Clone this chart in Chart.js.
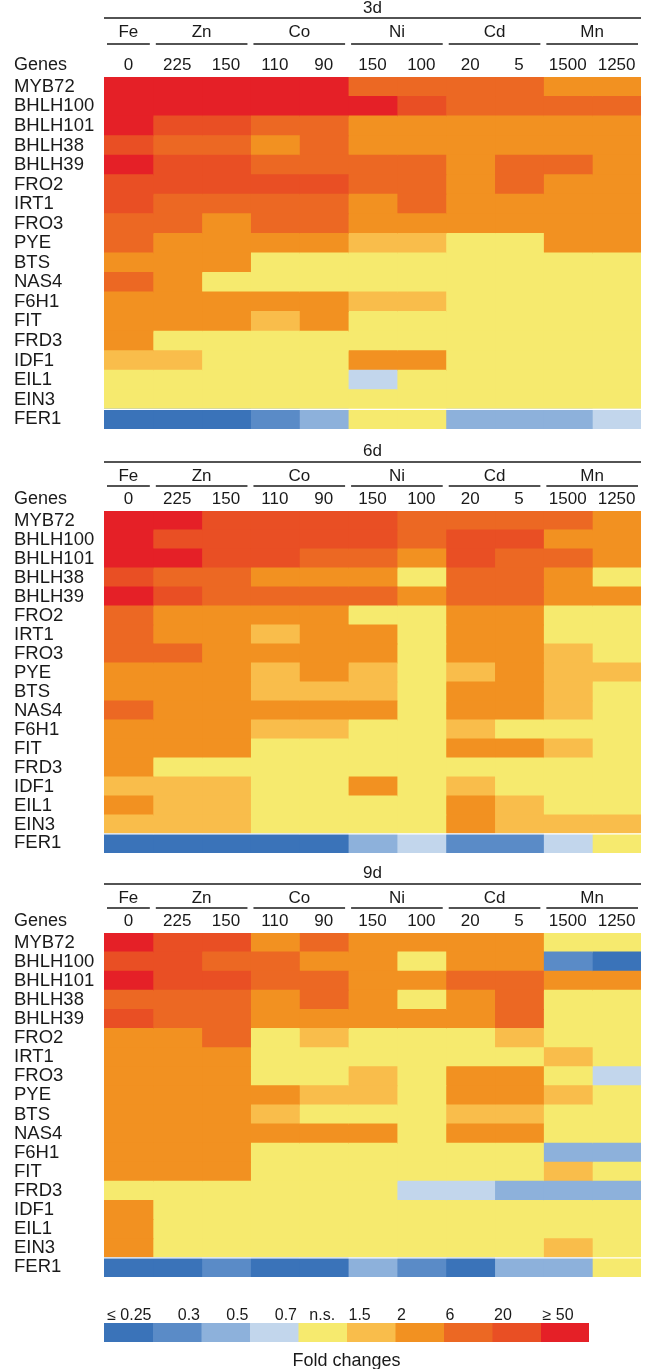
<!DOCTYPE html>
<html lang="en">
<head>
<meta charset="UTF-8">
<title>Fold changes</title>
<script src="https://cdn.jsdelivr.net/npm/chart.js@4.4.1/dist/chart.umd.min.js"></script>
<style>
  html, body { margin: 0; padding: 0; background: #fff; }
  body { width: 650px; height: 1369px; position: relative; overflow: hidden; }
  canvas { position: absolute; left: 0; display: block; }
</style>
</head>
<body>
<canvas id="p3d" width="650" height="440" style="top:0px"></canvas>
<canvas id="p6d" width="650" height="424" style="top:440px"></canvas>
<canvas id="p9d" width="650" height="426" style="top:862px"></canvas>
<canvas id="scale" width="650" height="79" style="top:1290px"></canvas>

<script>
// genes (rows) and treatments (columns)
const genes = ['MYB72', 'BHLH100', 'BHLH101', 'BHLH38', 'BHLH39', 'FRO2', 'IRT1', 'FRO3', 'PYE',
               'BTS', 'NAS4', 'F6H1', 'FIT', 'FRD3', 'IDF1', 'EIL1', 'EIN3', 'FER1'];
const metals = ['Fe', 'Zn', 'Co', 'Ni', 'Cd', 'Mn'];
const metalSpan = [1, 2, 2, 2, 2, 2];
const doses = ['0', '225', '150', '110', '90', '150', '100', '20', '5', '1500', '1250'];

// fold change classes (index used in the tables below)
const foldLabels = ['\u2264 0.25', '0.3', '0.5', '0.7', 'n.s.', '1.5', '2', '6', '20', '\u2265 50'];
const foldColors = ['#3a73b9', '#5a8bc7', '#8db1db', '#c2d6ec', '#f6ea6e',
                    '#f9bd4b', '#f29121', '#ec6823', '#e94f24', '#e52027'];

// class index per gene, columns in the order of doses
const day3 = [
  [9,9,9,9,9,7,7,7,7,6,6],
  [9,9,9,9,9,9,8,7,7,7,7],
  [9,8,8,7,7,6,6,6,6,6,6],
  [8,7,7,6,7,6,6,6,6,6,6],
  [9,8,8,7,7,7,7,6,7,7,6],
  [8,8,8,8,8,7,7,6,7,6,6],
  [8,7,7,7,7,6,7,6,6,6,6],
  [7,7,6,7,7,6,6,6,6,6,6],
  [7,6,6,6,6,5,5,4,4,6,6],
  [6,6,6,4,4,4,4,4,4,4,4],
  [7,6,4,4,4,4,4,4,4,4,4],
  [6,6,6,6,6,5,5,4,4,4,4],
  [6,6,6,5,6,4,4,4,4,4,4],
  [6,4,4,4,4,4,4,4,4,4,4],
  [5,5,4,4,4,6,6,4,4,4,4],
  [4,4,4,4,4,3,4,4,4,4,4],
  [4,4,4,4,4,4,4,4,4,4,4],
  [0,0,0,1,2,4,4,2,2,2,3]
];
const day6 = [
  [9,9,8,8,8,8,7,7,7,7,6],
  [9,8,8,8,8,8,7,8,8,6,6],
  [9,9,8,8,7,7,6,8,7,7,6],
  [8,7,7,6,6,6,4,7,7,6,4],
  [9,8,7,7,7,7,6,7,7,6,6],
  [7,6,6,6,6,4,4,6,6,4,4],
  [7,6,6,5,6,6,4,6,6,4,4],
  [7,7,6,6,6,6,4,6,6,5,4],
  [6,6,6,5,6,5,4,5,6,5,5],
  [6,6,6,5,5,5,4,6,6,5,4],
  [7,6,6,6,6,6,4,6,6,5,4],
  [6,6,6,5,5,4,4,5,4,4,4],
  [6,6,6,4,4,4,4,6,6,5,4],
  [6,4,4,4,4,4,4,4,4,4,4],
  [5,5,5,4,4,6,4,5,4,4,4],
  [6,5,5,4,4,4,4,6,5,4,4],
  [5,5,5,4,4,4,4,6,5,5,5],
  [0,0,0,0,0,2,3,1,1,3,4]
];
const day9 = [
  [9,8,8,6,7,6,6,6,6,4,4],
  [8,8,7,7,6,6,4,6,6,1,0],
  [9,8,8,7,7,6,6,7,7,6,6],
  [7,7,7,6,7,6,4,6,7,4,4],
  [8,7,7,6,6,6,6,6,7,4,4],
  [6,6,7,4,5,4,4,4,5,4,4],
  [6,6,6,4,4,4,4,4,4,5,4],
  [6,6,6,4,4,5,4,6,6,4,3],
  [6,6,6,6,5,5,4,6,6,5,4],
  [6,6,6,5,4,4,4,5,5,4,4],
  [6,6,6,6,6,6,4,6,6,4,4],
  [6,6,6,4,4,4,4,4,4,2,2],
  [6,6,6,4,4,4,4,4,4,5,4],
  [4,4,4,4,4,4,3,3,2,2,2],
  [6,4,4,4,4,4,4,4,4,4,4],
  [6,4,4,4,4,4,4,4,4,4,4],
  [6,4,4,4,4,4,4,4,4,5,4],
  [0,0,1,0,0,2,1,0,2,2,4]
];

const FONT = '"Liberation Sans", Arial, Helvetica, sans-serif';
const INK = '#1a1a1a';
Chart.defaults.font.family = FONT;
Chart.defaults.color = INK;
Chart.defaults.animation = false;

// column headers: day, metal groups, doses (+ thin gap above FER1)
const header = {
  id: 'header',
  afterDraw(chart, args, opts) {
    const { ctx, chartArea: a } = chart;
    const x = chart.scales.x, y = chart.scales.y;
    const T = a.top, off = opts.offsets;
    const line = (x1, x2, yy) => {
      ctx.beginPath(); ctx.moveTo(x1, yy); ctx.lineTo(x2, yy); ctx.stroke();
    };
    ctx.save();
    // white separator before the last row
    const rowH = a.height / genes.length;
    ctx.strokeStyle = '#ffffff';
    ctx.lineWidth = 1.2;
    line(a.left, a.right, y.getPixelForValue(genes.length - 1) - rowH / 2);

    ctx.fillStyle = INK;
    ctx.strokeStyle = INK;
    ctx.lineWidth = 1.5;
    ctx.textAlign = 'center';
    ctx.textBaseline = 'middle';
    ctx.font = '17px ' + FONT;
    ctx.fillText(opts.title, (a.left + a.right) / 2, T + off[0]);
    line(a.left, a.right, T + off[1]);

    let c = 0;
    metals.forEach((m, i) => {
      const l = x.getPixelForValue(c);
      const r = x.getPixelForValue(c + metalSpan[i]);
      ctx.fillText(m, (l + r) / 2, T + off[2]);
      line(l + 3, r - 3, T + off[3]);
      c += metalSpan[i];
    });
    doses.forEach((d, i) => ctx.fillText(d, x.getPixelForValue(i + 0.5), T + off[4]));

    ctx.textAlign = 'left';
    ctx.font = '18px ' + FONT;
    ctx.fillText('Genes', 14, T + off[4]);
    ctx.restore();
  }
};

function heatmap(id, title, table, padTop, offsets) {
  const datasets = doses.map((d, c) => ({
    label: d,
    data: genes.map(() => [c, c + 1]),
    backgroundColor: table.map(row => foldColors[row[c]]),
    borderWidth: 0,
    grouped: false,
    inflateAmount: 0.5,
    barPercentage: 1,
    categoryPercentage: 1
  }));

  return new Chart(document.getElementById(id), {
    type: 'bar',
    data: { labels: genes, datasets: datasets },
    options: {
      responsive: false,
      indexAxis: 'y',
      layout: { padding: { top: padTop, left: 14, right: 9, bottom: 2 } },
      scales: {
        x: { type: 'linear', min: 0, max: doses.length, display: false },
        y: {
          grid: { display: false },
          border: { display: false },
          afterFit: s => { s.width = 90; },
          ticks: {
            autoSkip: false,
            crossAlign: 'far',
            padding: 0,
            color: INK,
            font: { size: 18.5 }
          }
        }
      },
      plugins: {
        legend: { display: false },
        tooltip: { enabled: false },
        header: { title: title, offsets: offsets }
      }
    },
    plugins: [header]
  });
}

heatmap('p3d', '3d', day3, 77, [-69, -59, -45, -33, -12]);
heatmap('p6d', '6d', day6, 71, [-60, -49, -35, -25, -12]);
heatmap('p9d', '9d', day9, 71, [-60, -49, -35, -25, -12]);

// colour key
const keyAlign = ['end', 'end', 'end', 'end', 'center', 'start', 'start', 'start', 'start', 'start'];
const keyText = {
  id: 'keyText',
  afterDraw(chart) {
    const { ctx, chartArea: a } = chart;
    const x = chart.scales.x;
    ctx.save();
    ctx.fillStyle = INK;
    ctx.textBaseline = 'middle';
    ctx.font = '16px ' + FONT;
    foldLabels.forEach((t, i) => {
      let px = x.getPixelForValue(i + 0.5);
      if (keyAlign[i] === 'end') px = x.getPixelForValue(i + 1) - 1;
      if (keyAlign[i] === 'start') px = x.getPixelForValue(i) + 2;
      ctx.textAlign = keyAlign[i] === 'end' ? 'right' : keyAlign[i] === 'start' ? 'left' : 'center';
      ctx.fillText(t, px, a.top - 7);
    });
    ctx.textAlign = 'center';
    ctx.font = '18px ' + FONT;
    ctx.fillText('Fold changes', (a.left + a.right) / 2, a.bottom + 19);
    ctx.restore();
  }
};

new Chart(document.getElementById('scale'), {
  type: 'bar',
  data: {
    labels: ['fold'],
    datasets: foldColors.map((col, i) => ({
      label: foldLabels[i],
      data: [[i, i + 1]],
      backgroundColor: col,
      grouped: false,
      inflateAmount: 0.5,
      barPercentage: 1,
      categoryPercentage: 1
    }))
  },
  options: {
    responsive: false,
    indexAxis: 'y',
    layout: { padding: { top: 33, left: 104, right: 61, bottom: 27 } },
    scales: {
      x: { type: 'linear', min: 0, max: foldLabels.length, display: false },
      y: { display: false }
    },
    plugins: { legend: { display: false }, tooltip: { enabled: false } }
  },
  plugins: [keyText]
});
</script>
</body>
</html>
